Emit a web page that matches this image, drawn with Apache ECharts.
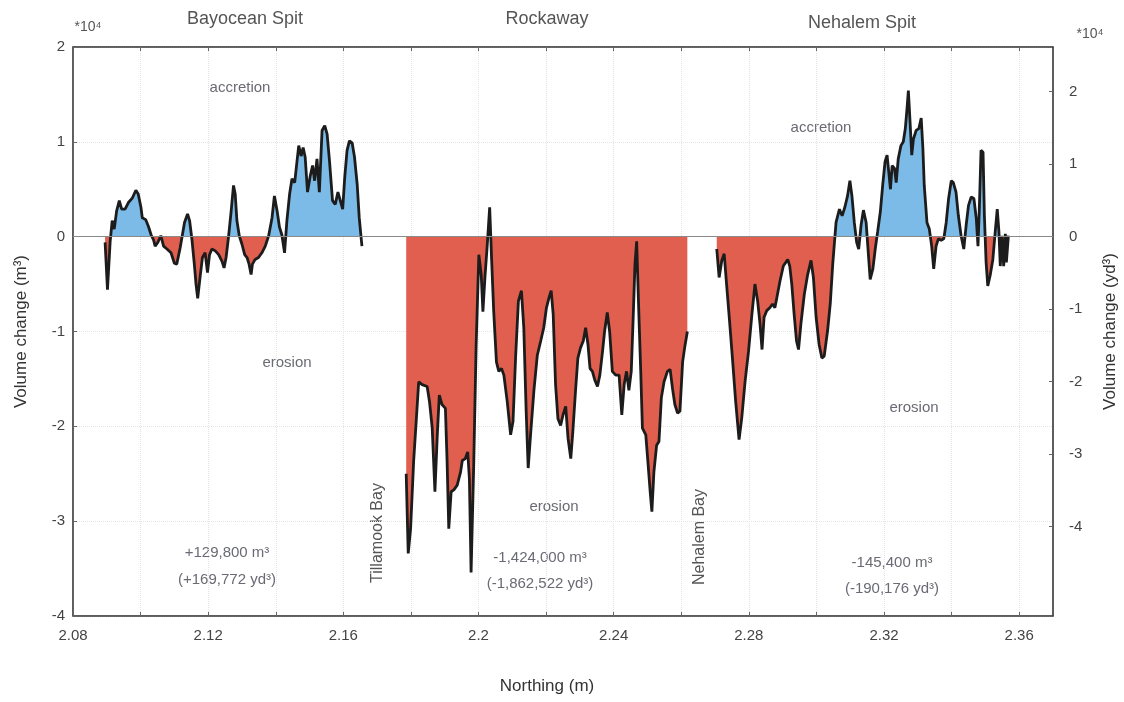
<html>
<head>
<meta charset="utf-8">
<script src="https://cdn.jsdelivr.net/npm/echarts@6/dist/echarts.min.js"></script>
</head>
<body>
<style>
html, body, #main { width: 100%; height: 100%; margin: 0; background: #fff; }
</style>
<div id="main"></div>
<script>
// northing (x10^6 m) and volume change (x10^4 m3)
var bayoceanX = [2.0895, 2.0902, 2.0910, 2.0916, 2.0922, 2.0929, 2.0937, 2.0944, 2.0954, 2.0964,
    2.0976, 2.0986, 2.0993, 2.1001, 2.1005, 2.1015, 2.1023, 2.1031, 2.1038, 2.1043,
    2.1051, 2.1060, 2.1068, 2.1078, 2.1090, 2.1100, 2.1107, 2.1117, 2.1130, 2.1139,
    2.1145, 2.1152, 2.1159, 2.1164, 2.1169, 2.1176, 2.1183, 2.1191, 2.1198, 2.1204,
    2.1211, 2.1221, 2.1231, 2.1241, 2.1247, 2.1253, 2.1260, 2.1268, 2.1275, 2.1280,
    2.1285, 2.1292, 2.1300, 2.1308, 2.1315, 2.1321, 2.1327, 2.1331, 2.1339, 2.1349,
    2.1359, 2.1369, 2.1379, 2.1389, 2.1396, 2.1404, 2.1411, 2.1418, 2.1426, 2.1433,
    2.1441, 2.1448, 2.1456, 2.1463, 2.1468, 2.1475, 2.1481, 2.1487, 2.1494, 2.1502,
    2.1509, 2.1515, 2.1522, 2.1529, 2.1537, 2.1545, 2.1552, 2.1559, 2.1568, 2.1576,
    2.1584, 2.1591, 2.1598, 2.1604, 2.1611, 2.1618, 2.1626, 2.1633, 2.1641, 2.1647,
    2.1655];
var bayoceanV = [-0.06, -0.56, -0.05, 0.17, 0.08, 0.27, 0.38, 0.29, 0.29, 0.36,
    0.41, 0.49, 0.45, 0.31, 0.20, 0.18, 0.11, 0.02, -0.03, -0.10,
    -0.06, 0.01, -0.10, -0.13, -0.17, -0.28, -0.29, -0.12, 0.15, 0.24,
    0.17, -0.03, -0.29, -0.50, -0.65, -0.43, -0.22, -0.17, -0.38, -0.19,
    -0.13, -0.15, -0.19, -0.26, -0.33, -0.22, -0.01, 0.27, 0.54, 0.45,
    0.17, 0.01, -0.08, -0.19, -0.22, -0.29, -0.40, -0.29, -0.24, -0.22,
    -0.17, -0.10, 0.01, 0.20, 0.43, 0.27, 0.10, 0.02, -0.17, 0.17,
    0.45, 0.61, 0.57, 0.80, 0.96, 0.85, 0.94, 0.84, 0.47, 0.64,
    0.75, 0.59, 0.82, 0.47, 1.12, 1.17, 1.08, 0.80, 0.38, 0.34,
    0.47, 0.38, 0.29, 0.62, 0.91, 1.01, 0.99, 0.84, 0.55, 0.20,
    -0.10];

var rockawayX = [2.1786, 2.1792, 2.1799, 2.1808, 2.1818, 2.1823, 2.1833, 2.1848, 2.1855, 2.1863,
    2.1871, 2.1878, 2.1884, 2.1892, 2.1902, 2.1907, 2.1912, 2.1919, 2.1927, 2.1937,
    2.1947, 2.1952, 2.1961, 2.1968, 2.1973, 2.1978, 2.1986, 2.1993, 2.2001, 2.2008,
    2.2013, 2.2019, 2.2026, 2.2033, 2.2039, 2.2045, 2.2053, 2.2060, 2.2068, 2.2075,
    2.2085, 2.2095, 2.2102, 2.2110, 2.2118, 2.2127, 2.2134, 2.2141, 2.2147, 2.2154,
    2.2164, 2.2174, 2.2184, 2.2193, 2.2201, 2.2208, 2.2215, 2.2221, 2.2228, 2.2235,
    2.2243, 2.2250, 2.2258, 2.2265, 2.2273, 2.2279, 2.2287, 2.2294, 2.2302, 2.2310,
    2.2317, 2.2324, 2.2330, 2.2337, 2.2344, 2.2352, 2.2359, 2.2367, 2.2373, 2.2381,
    2.2388, 2.2396, 2.2406, 2.2416, 2.2424, 2.2431, 2.2438, 2.2445, 2.2452, 2.2458,
    2.2463, 2.2468, 2.2473, 2.2480, 2.2485, 2.2495, 2.2502, 2.2508, 2.2513, 2.2519,
    2.2527, 2.2534, 2.2541, 2.2549, 2.2559, 2.2567, 2.2574, 2.2581, 2.2589, 2.2596,
    2.2604, 2.2610, 2.2618];
var rockawayV = [-2.50, -3.34, -3.08, -2.37, -1.81, -1.53, -1.56, -1.58, -1.74, -2.02,
    -2.69, -2.09, -1.67, -1.77, -1.81, -2.37, -3.08, -2.69, -2.67, -2.62,
    -2.48, -2.36, -2.34, -2.27, -2.55, -3.54, -2.37, -1.14, -0.19, -0.40,
    -0.79, -0.43, -0.08, 0.31, -0.26, -0.79, -1.32, -1.42, -1.39, -1.46,
    -1.74, -2.09, -1.95, -1.25, -0.68, -0.57, -0.96, -1.84, -2.44, -2.09,
    -1.62, -1.25, -1.10, -0.96, -0.75, -0.65, -0.57, -0.82, -1.56, -1.92,
    -1.99, -1.88, -1.79, -2.13, -2.34, -2.06, -1.63, -1.28, -1.17, -1.10,
    -0.96, -1.14, -1.39, -1.42, -1.51, -1.58, -1.46, -1.21, -1.00, -0.80,
    -1.00, -1.42, -1.46, -1.46, -1.88, -1.56, -1.42, -1.62, -1.42, -0.82,
    -0.29, -0.05, -0.65, -1.42, -2.02, -2.09, -2.41, -2.69, -2.90, -2.48,
    -2.20, -2.16, -1.70, -1.53, -1.42, -1.40, -1.60, -1.77, -1.86, -1.84,
    -1.32, -1.17, -1.00];

var nehalemX = [2.2705, 2.2712, 2.2720, 2.2727, 2.2734, 2.2742, 2.2752, 2.2761, 2.2771, 2.2779,
    2.2789, 2.2799, 2.2809, 2.2818, 2.2826, 2.2833, 2.2839, 2.2845, 2.2853, 2.2862,
    2.2870, 2.2877, 2.2883, 2.2892, 2.2902, 2.2915, 2.2921, 2.2927, 2.2934, 2.2941,
    2.2947, 2.2954, 2.2964, 2.2974, 2.2984, 2.2991, 2.2999, 2.3008, 2.3016, 2.3023,
    2.3033, 2.3041, 2.3048, 2.3058, 2.3068, 2.3076, 2.3084, 2.3092, 2.3099, 2.3105,
    2.3112, 2.3119, 2.3125, 2.3132, 2.3139, 2.3147, 2.3154, 2.3159, 2.3167, 2.3174,
    2.3181, 2.3189, 2.3196, 2.3203, 2.3209, 2.3214, 2.3219, 2.3224, 2.3231, 2.3236,
    2.3242, 2.3250, 2.3257, 2.3263, 2.3268, 2.3272, 2.3277, 2.3282, 2.3287, 2.3295,
    2.3303, 2.3310, 2.3315, 2.3319, 2.3327, 2.3334, 2.3341, 2.3347, 2.3354, 2.3361,
    2.3369, 2.3377, 2.3384, 2.3391, 2.3399, 2.3405, 2.3413, 2.3420, 2.3428, 2.3436,
    2.3443, 2.3450, 2.3458, 2.3466, 2.3473, 2.3478, 2.3482, 2.3487, 2.3493, 2.3497,
    2.3502, 2.3507, 2.3514, 2.3522, 2.3529, 2.3535, 2.3540, 2.3544, 2.3549, 2.3554,
    2.3559, 2.3562, 2.3568];
var nehalemV = [-0.13, -0.43, -0.25, -0.18, -0.50, -0.85, -1.31, -1.74, -2.14, -1.91,
    -1.52, -1.21, -0.82, -0.50, -0.68, -0.92, -1.19, -0.85, -0.78, -0.75,
    -0.71, -0.75, -0.64, -0.47, -0.31, -0.24, -0.31, -0.50, -0.82, -1.10,
    -1.19, -0.92, -0.61, -0.40, -0.25, -0.43, -0.85, -1.14, -1.28, -1.26,
    -0.99, -0.70, -0.30, 0.15, 0.29, 0.22, 0.31, 0.43, 0.59, 0.43,
    0.15, -0.06, -0.13, 0.12, 0.28, 0.15, -0.20, -0.45, -0.34, -0.13,
    0.05, 0.26, 0.54, 0.79, 0.86, 0.68, 0.50, 0.75, 0.72, 0.57,
    0.82, 0.96, 1.00, 1.14, 1.35, 1.54, 1.21, 0.86, 1.03, 1.12,
    1.14, 1.25, 0.93, 0.54, 0.15, 0.08, -0.10, -0.34, -0.10, -0.02,
    -0.04, -0.02, 0.15, 0.40, 0.59, 0.57, 0.47, 0.22, 0.01, -0.13,
    0.12, 0.33, 0.42, 0.40, 0.19, -0.10, 0.29, 0.91, 0.89, 0.22,
    -0.27, -0.52, -0.41, -0.24, 0.05, 0.29, 0.05, -0.31, 0.01, -0.31,
    0.03, -0.27, 0.01];

var xLabels = [2.08, 2.12, 2.16, 2.2, 2.24, 2.28, 2.32, 2.36];
var xTicks = [2.08, 2.10, 2.12, 2.14, 2.16, 2.18, 2.20, 2.22, 2.24, 2.26, 2.28, 2.30, 2.32, 2.34, 2.36];
var ydLabels = [-4, -3, -2, -1, 0, 1, 2];
var M3_TO_YD3 = 1.30795;

var FONT = 'Liberation Sans, Arial, sans-serif';
var BLUE = '#7cbbe7';
var RED = '#e05f4e';

function pairs(xs, vs) {
    var out = [];
    for (var i = 0; i < xs.length; i++) {
        out.push([xs[i], vs[i]]);
    }
    return out;
}

function segment(name, xs, vs) {
    return {
        name: name,
        type: 'line',
        data: pairs(xs, vs),
        symbol: 'none',
        lineStyle: { color: '#1c1c1c', width: 2.8 },
        areaStyle: { opacity: 1 },
        z: 3
    };
}

function label(text, x, y, size, color) {
    return {
        type: 'text', x: x, y: y, silent: true,
        style: {
            text: text, fill: color || '#6a6a74', font: (size || 15) + 'px ' + FONT,
            textAlign: 'center', textVerticalAlign: 'middle'
        }
    };
}

var chart = echarts.init(document.getElementById('main'));

var axisText = { color: '#444', fontSize: 15, fontFamily: FONT };
var nameText = { color: '#333', fontSize: 17, fontFamily: FONT };

var series = [
    segment('Bayocean Spit', bayoceanX, bayoceanV),
    segment('Rockaway', rockawayX, rockawayV),
    segment('Nehalem Spit', nehalemX, nehalemV)
];
series[0].markLine = {
    silent: true,
    symbol: ['none', 'none'],
    label: { show: false },
    lineStyle: { color: '#8a8a8a', width: 1, type: 'solid' },
    data: [{ yAxis: 0 }]
};

var rotatedTill = label('Tillamook Bay', 378, 533, 16, '#555');
rotatedTill.rotation = Math.PI / 2;
var rotatedNeh = label('Nehalem Bay', 700, 537, 16, '#555');
rotatedNeh.rotation = Math.PI / 2;

chart.setOption({
    animation: false,
    backgroundColor: '#fff',
    grid: {
        left: 73, right: 71, top: 47, bottom: 86,
        outerBoundsMode: 'none', containLabel: false,
        show: true, borderColor: '#555', borderWidth: 1
    },
    visualMap: {
        show: false,
        type: 'piecewise',
        dimension: 1,
        seriesIndex: [0, 1, 2],
        pieces: [
            { gt: 0, lte: 3, color: BLUE },
            { gte: -5, lte: 0, color: RED }
        ]
    },
    xAxis: [{
        type: 'value',
        min: 2.08,
        max: 2.37,
        interval: 0.04,
        position: 'bottom',
        axisLine: { onZero: false, lineStyle: { color: '#444', width: 1.5 } },
        axisTick: { inside: true, length: 4, customValues: xTicks, lineStyle: { color: '#666' } },
        axisLabel: Object.assign({
            customValues: xLabels,
            margin: 12,
            formatter: function (v) { return String(+v.toFixed(2)); }
        }, axisText),
        splitLine: { show: true, lineStyle: { color: '#e4e4e4', type: 'dotted' } },
        name: 'Northing (m)',
        nameLocation: 'middle',
        nameGap: 62,
        nameMoveOverlap: false,
        nameTextStyle: Object.assign({ padding: [0, 32, 0, 0] }, nameText)
    }, {
        type: 'value',
        min: 2.08,
        max: 2.37,
        interval: 0.04,
        position: 'top',
        axisLine: { onZero: false, lineStyle: { color: '#444', width: 1.5 } },
        axisTick: { inside: true, length: 4, customValues: xTicks, lineStyle: { color: '#666' } },
        axisLabel: { show: false },
        splitLine: { show: false }
    }],
    yAxis: [{
        type: 'value',
        min: -4,
        max: 2,
        interval: 1,
        position: 'left',
        axisLine: { show: true, onZero: false, lineStyle: { color: '#444', width: 1.5 } },
        axisTick: { show: true, inside: true, length: 4, lineStyle: { color: '#666' } },
        axisLabel: Object.assign({ margin: 8 }, axisText),
        splitLine: { show: true, lineStyle: { color: '#e4e4e4', type: 'dotted' } },
        name: 'Volume change (m³)',
        nameLocation: 'middle',
        nameGap: 43,
        nameRotate: 90,
        nameMoveOverlap: false,
        nameTextStyle: nameText
    }, {
        type: 'value',
        min: -4 * M3_TO_YD3,
        max: 2 * M3_TO_YD3,
        position: 'right',
        axisLine: { show: true, onZero: false, lineStyle: { color: '#444', width: 1.5 } },
        axisTick: { show: true, inside: true, length: 4, customValues: ydLabels, lineStyle: { color: '#666' } },
        axisLabel: Object.assign({ margin: 16, customValues: ydLabels }, axisText),
        splitLine: { show: false },
        name: 'Volume change (yd³)',
        nameLocation: 'middle',
        nameGap: 49,
        nameRotate: 90,
        nameMoveOverlap: false,
        nameTextStyle: nameText
    }],
    graphic: [
        label('Bayocean Spit', 245, 19, 18, '#555'),
        label('Rockaway', 547, 19, 18, '#555'),
        label('Nehalem Spit', 862, 23, 18, '#555'),
        label('*10⁴', 88, 27, 14, '#555'),
        label('*10⁴', 1090, 34, 14, '#555'),
        label('accretion', 240, 88),
        label('erosion', 287, 363),
        label('accretion', 821, 128),
        label('erosion', 914, 408),
        label('erosion', 554, 507),
        label('+129,800 m³', 227, 553),
        label('(+169,772 yd³)', 227, 580),
        label('-1,424,000 m³', 540, 558),
        label('(-1,862,522 yd³)', 540, 584),
        label('-145,400 m³', 892, 563),
        label('(-190,176 yd³)', 892, 589),
        rotatedTill,
        rotatedNeh
    ],
    series: series
});
</script>
</body>
</html>
